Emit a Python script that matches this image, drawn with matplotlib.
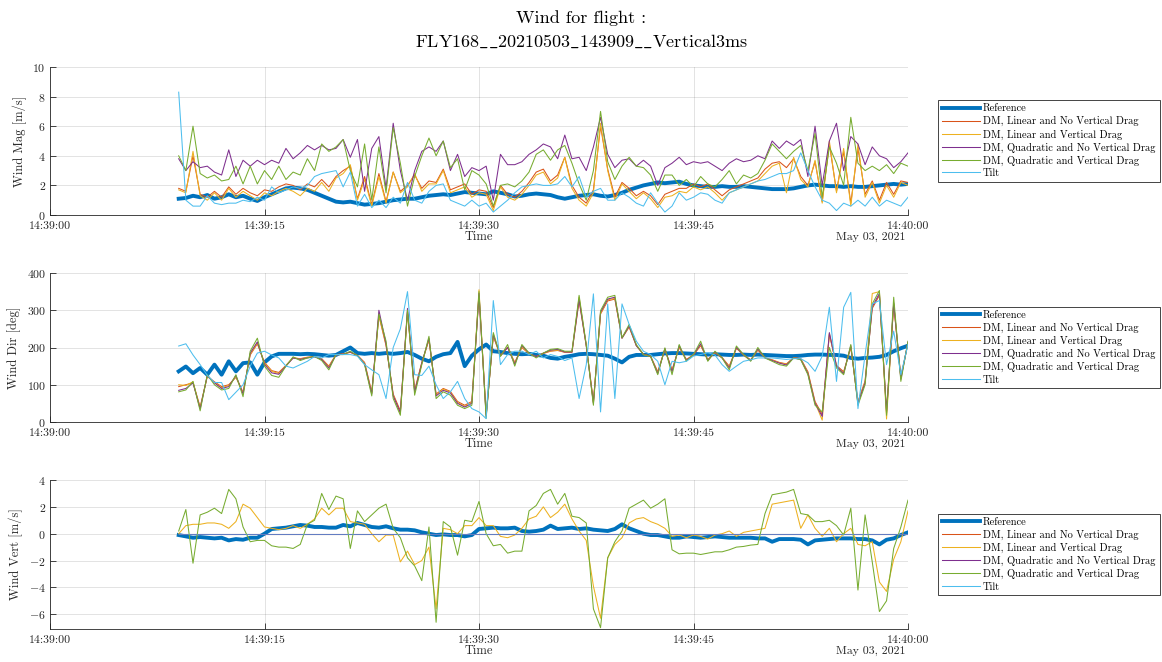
import numpy as np
import matplotlib
matplotlib.use('Agg')
import matplotlib.pyplot as plt
import matplotlib.dates as mdates
from matplotlib.lines import Line2D
from datetime import datetime, timedelta

plt.rcParams['font.family'] = ['cmr10', 'DejaVu Serif']
plt.rcParams['mathtext.fontset'] = 'cm'
plt.rcParams['axes.unicode_minus'] = False
plt.rcParams['axes.formatter.use_mathtext'] = True

# ---------------- data ----------------
t_start = 9.0   # seconds after 14:39:00
t_step = 0.5

labels = ['Reference', 'DM, Linear and No Vertical Drag', 'DM, Linear and Vertical Drag',
          'DM, Quadratic and No Vertical Drag', 'DM, Quadratic and Vertical Drag', 'Tilt']
colors = ['#0072BD', '#D95319', '#EDB120', '#7E2F8E', '#77AC30', '#4DBEEE']

mag_ref = [
    1.1, 1.15, 1.3, 1.2, 1.35, 1.1, 1.2, 1.4, 1.2, 1.3,
    1.1, 0.95, 1.2, 1.4, 1.6, 1.8, 1.85, 1.8, 1.7, 1.5,
    1.3, 1.1, 0.9, 0.85, 0.9, 0.8, 0.7, 0.75, 0.8, 0.9,
    1.0, 1.05, 1.1, 1.1, 1.2, 1.3, 1.35, 1.4, 1.35, 1.45,
    1.55, 1.5, 1.45, 1.4, 1.6, 1.5, 1.4, 1.25, 1.3, 1.4,
    1.45, 1.4, 1.35, 1.2, 1.1, 1.2, 1.3, 1.35, 1.4, 1.3,
    1.25, 1.35, 1.5, 1.7, 1.85, 2.0, 2.1, 2.2, 2.15, 2.2,
    2.25, 2.1, 2.0, 1.95, 1.9, 1.9, 1.95, 1.9, 1.9, 1.95,
    1.9, 1.85, 1.8, 1.75, 1.75, 1.75, 1.8, 1.9, 2.0, 2.05,
    2.0, 1.95, 1.95, 1.9, 1.95, 1.9, 1.9, 1.95, 2.0, 2.05,
    2.1, 2.05, 2.1]
mag_lin_nvd = [
    1.8, 1.6, 4.0, 1.4, 1.2, 1.6, 1.2, 1.9, 1.4, 1.8,
    1.5, 1.3, 1.7, 1.6, 1.9, 2.1, 2.0, 1.7, 2.1, 1.9,
    2.4, 1.9, 2.6, 3.0, 3.3, 1.1, 2.6, 0.7, 2.8, 0.9,
    2.9, 1.6, 2.0, 2.7, 1.8, 2.3, 2.2, 3.1, 1.7, 1.9,
    2.1, 1.4, 1.7, 1.6, 0.5, 2.0, 1.4, 1.2, 1.6, 2.2,
    2.9, 3.1, 2.3, 2.7, 3.9, 2.0, 1.2, 0.8, 1.7, 6.0,
    3.1, 1.2, 2.2, 1.8, 1.3, 1.6, 1.3, 0.7, 1.4, 1.6,
    1.8, 1.8, 2.1, 1.9, 2.1, 1.7, 1.3, 1.7, 1.9, 2.1,
    2.3, 2.5, 3.1, 3.5, 3.6, 3.2, 3.8, 2.6, 2.0, 3.6,
    0.9, 4.8, 1.6, 4.3, 0.8, 4.5, 1.4, 2.3, 1.0, 2.2,
    1.4, 2.3, 2.2]
mag_lin_vd = [
    1.7, 1.5, 4.3, 1.3, 1.0, 1.5, 1.0, 1.8, 1.2, 1.6,
    1.3, 1.0, 1.5, 1.3, 1.6, 1.8, 1.6, 1.3, 1.8, 1.6,
    2.2, 1.6, 2.5, 2.8, 3.4, 1.0, 2.4, 0.6, 2.6, 0.8,
    2.9, 1.5, 1.9, 2.8, 1.6, 2.1, 2.1, 3.0, 1.5, 1.7,
    1.9, 1.2, 1.5, 1.4, 0.3, 1.9, 1.2, 1.0, 1.4, 2.0,
    2.7, 2.9, 2.1, 2.5, 3.9, 1.8, 1.0, 0.6, 1.5, 6.2,
    3.0, 1.0, 2.1, 1.6, 1.1, 1.5, 1.1, 0.5, 1.2, 1.3,
    1.6, 1.5, 1.9, 1.7, 1.9, 1.5, 1.0, 1.5, 1.7, 1.9,
    2.1, 2.3, 2.8, 3.3, 3.5, 1.5, 3.9, 2.4, 1.9, 3.7,
    0.8, 5.0, 1.5, 4.5, 0.6, 4.8, 1.2, 2.2, 0.8, 2.0,
    1.2, 2.2, 2.0]
mag_quad_nvd = [
    3.8, 3.0, 3.6, 3.2, 3.3, 2.9, 2.7, 4.4, 2.6, 3.7,
    3.3, 3.7, 3.4, 3.7, 3.5, 4.5, 3.8, 4.2, 4.7, 4.4,
    4.7, 4.4, 4.5, 5.1, 3.9, 5.1, 1.6, 4.5, 5.3, 1.8,
    6.2, 3.0, 1.0, 3.0, 4.3, 4.6, 4.3, 5.0, 3.0, 4.1,
    2.6, 3.2, 3.0, 3.3, 1.0, 4.1, 3.4, 3.4, 3.6, 4.1,
    4.4, 4.8, 4.6, 3.8, 5.4, 3.8, 3.9, 3.0, 4.6, 6.6,
    4.1, 3.2, 3.7, 3.8, 3.3, 3.7, 3.3, 2.0, 3.2, 3.5,
    3.9, 3.4, 3.6, 3.5, 3.6, 3.3, 3.0, 3.5, 3.8, 3.6,
    3.7, 4.0, 3.8, 5.0, 4.5, 5.0, 4.7, 5.1, 2.6, 6.0,
    2.0, 5.0, 6.2, 3.0, 5.3, 4.8, 3.4, 4.6, 4.0, 3.8,
    3.2, 3.6, 4.2]
mag_quad_vd = [
    4.0, 3.0, 6.0, 2.8, 2.5, 2.7, 2.3, 2.4, 3.3, 2.1,
    3.3, 2.1, 3.0, 2.4, 3.3, 2.4, 2.9, 2.7, 3.8, 3.0,
    4.8, 4.3, 4.6, 5.1, 3.0, 1.9, 4.8, 1.0, 4.6, 1.5,
    5.9, 3.5, 0.6, 2.6, 4.0, 5.2, 4.0, 5.0, 3.2, 3.8,
    1.7, 3.0, 2.7, 2.1, 0.6, 2.0, 2.1, 1.9, 2.3, 2.9,
    4.1, 4.4, 3.7, 4.4, 4.7, 3.5, 2.1, 1.0, 3.0, 7.0,
    3.6, 2.4, 3.3, 3.9, 3.3, 3.2, 2.7, 1.6, 2.7, 2.7,
    2.0, 2.4, 1.9, 2.6, 2.1, 1.9, 2.4, 3.0, 2.1, 2.7,
    2.5, 2.8, 3.7, 4.8, 4.3, 3.8, 4.3, 4.7, 3.0, 5.5,
    1.2, 4.6, 3.5, 2.0, 6.6, 3.5, 3.0, 3.3, 3.0, 3.4,
    2.8, 3.5, 3.3]
mag_tilt = [
    8.3, 1.0, 0.6, 0.6, 1.3, 0.8, 0.7, 0.8, 0.8, 1.0,
    0.9, 1.2, 1.0, 1.9, 1.5, 1.7, 1.9, 1.8, 2.0, 2.6,
    2.8, 2.9, 3.0, 1.9, 2.9, 0.6, 1.4, 0.5, 1.0, 0.5,
    1.2, 0.8, 2.2, 1.0, 0.8, 1.6, 2.0, 2.1, 1.0, 0.8,
    0.6, 1.0, 0.6, 0.8, 0.2, 0.6, 1.0, 1.5, 1.9, 2.0,
    2.1, 2.0, 2.0, 2.1, 2.6, 1.9, 2.6, 1.2, 1.6, 1.8,
    1.0, 1.0, 1.5, 1.2, 0.8, 0.6, 1.5, 0.8, 0.2, 0.6,
    1.5, 1.0, 1.2, 1.5, 1.4, 1.0, 0.8, 1.5, 1.7, 1.9,
    2.1, 2.3, 2.4, 2.6, 2.8, 2.8, 3.0, 4.2, 3.0, 1.9,
    1.0, 0.8, 0.3, 0.8, 0.6, 1.0, 0.6, 1.2, 0.6, 1.0,
    0.8, 0.6, 1.2]

dir_ref = [
    136, 149, 131, 145, 127, 154, 127, 163, 136, 158,
    160, 127, 160, 176, 183, 183, 183, 182, 183, 182,
    180, 178, 180, 190, 200, 185, 183, 185, 183, 185,
    183, 185, 188, 180, 170, 163, 175, 182, 185, 215,
    150, 178, 195, 208, 190, 188, 185, 183, 182, 183,
    180, 178, 172, 170, 175, 178, 182, 183, 182, 180,
    178, 170, 160, 175, 180, 180, 180, 182, 184, 185,
    185, 184, 183, 182, 181, 182, 181, 180, 180, 181,
    180, 181, 180, 179, 178, 177, 177, 178, 180, 181,
    181, 180, 180, 178, 172, 170, 172, 173, 175, 180,
    190, 198, 205]
dir_lin_nvd = [
    95, 100, 105, 40, 122, 108, 95, 100, 120, 80,
    180, 210, 160, 138, 133, 152, 172, 170, 174, 176,
    170, 150, 181, 183, 187, 179, 160, 80, 285, 205,
    75, 30, 295, 85, 160, 220, 75, 90, 82, 55,
    45, 55, 340, 20, 230, 178, 200, 160, 200, 183,
    176, 184, 190, 192, 187, 187, 325, 205, 55, 290,
    325, 330, 225, 255, 205, 182, 177, 135, 195, 140,
    200, 168, 180, 205, 168, 186, 173, 150, 198, 180,
    167, 193, 173, 167, 160, 156, 173, 170, 135, 55,
    20, 235, 152, 135, 200, 55, 110, 305, 340, 30,
    315, 120, 212]
dir_lin_vd = [
    100, 98, 108, 38, 124, 106, 92, 98, 122, 78,
    182, 212, 158, 136, 130, 151, 173, 169, 173, 175,
    169, 148, 180, 182, 188, 178, 158, 78, 288, 208,
    72, 22, 298, 82, 157, 222, 72, 88, 80, 52,
    42, 52, 355, 18, 232, 177, 201, 158, 202, 184,
    175, 185, 191, 193, 188, 188, 335, 206, 52, 292,
    328, 332, 226, 256, 206, 181, 176, 132, 196, 138,
    202, 166, 181, 207, 166, 187, 172, 148, 199, 180,
    166, 194, 172, 166, 159, 155, 172, 169, 132, 52,
    5, 238, 150, 132, 202, 52, 108, 345, 350, 8,
    318, 118, 214]
dir_quad_nvd = [
    85, 90, 105, 35, 125, 105, 90, 95, 125, 75,
    185, 215, 155, 132, 128, 150, 172, 168, 172, 175,
    168, 145, 180, 182, 188, 178, 156, 75, 300, 210,
    70, 25, 305, 80, 158, 225, 70, 85, 78, 50,
    40, 50, 345, 15, 235, 178, 200, 155, 205, 185,
    175, 185, 193, 195, 188, 188, 330, 205, 50, 295,
    330, 335, 225, 258, 205, 182, 176, 130, 197, 135,
    205, 165, 180, 210, 165, 188, 172, 145, 200, 180,
    165, 196, 172, 165, 158, 153, 172, 168, 130, 50,
    15, 240, 150, 130, 205, 50, 105, 310, 345, 25,
    320, 115, 215]
dir_quad_vd = [
    81, 86, 109, 30, 127, 100, 86, 90, 127, 68,
    190, 225, 150, 125, 120, 150, 175, 165, 172, 176,
    165, 140, 181, 181, 190, 178, 154, 70, 290, 217,
    63, 18, 300, 72, 154, 230, 63, 81, 72, 45,
    36, 45, 350, 10, 240, 176, 208, 150, 208, 185,
    172, 185, 195, 197, 190, 190, 340, 208, 45, 299,
    335, 340, 226, 262, 208, 181, 176, 127, 199, 127,
    208, 163, 181, 217, 163, 190, 172, 140, 204, 181,
    163, 200, 172, 163, 154, 150, 172, 167, 127, 45,
    27, 200, 145, 127, 208, 45, 100, 317, 353, 18,
    335, 109, 217]
dir_tilt = [
    204, 210, 180, 154, 125, 106, 106, 60, 80, 100,
    150, 185, 190, 180, 172, 150, 145, 154, 163, 176,
    172, 181, 181, 181, 181, 177, 154, 140, 127, 63,
    200, 250, 350, 127, 125, 150, 100, 63, 81, 109,
    63, 36, 27, 9, 326, 154, 181, 190, 190, 181,
    190, 172, 181, 176, 165, 172, 63, 154, 344, 27,
    317, 63, 317, 262, 217, 190, 181, 163, 100, 163,
    159, 163, 177, 181, 186, 180, 154, 136, 150, 163,
    167, 172, 172, 172, 170, 168, 170, 170, 159, 136,
    177, 308, 109, 308, 348, 36, 181, 317, 326, 154,
    244, 127, 208]

vert_ref = [
    -0.1, -0.2, -0.3, -0.25, -0.3, -0.35, -0.3, -0.5, -0.4, -0.45,
    -0.3, -0.3, 0.0, 0.35, 0.4, 0.45, 0.55, 0.65, 0.6, 0.5,
    0.5, 0.45, 0.45, 0.65, 0.55, 0.8, 0.65, 0.5, 0.45, 0.55,
    0.4, 0.3, 0.3, 0.25, 0.1, 0.0, -0.1, -0.05, -0.1, -0.1,
    -0.2, -0.1, 0.35, 0.4, 0.45, 0.4, 0.4, 0.45, 0.2, 0.15,
    0.2, 0.3, 0.6, 0.35, 0.4, 0.45, 0.35, 0.4, 0.3, 0.25,
    0.2, 0.35, 0.7, 0.4, 0.2, 0.0, -0.1, -0.1, -0.2, -0.3,
    -0.3, -0.2, -0.25, -0.3, -0.25, -0.2, -0.25, -0.3, -0.3, -0.3,
    -0.3, -0.35, -0.35, -0.6, -0.4, -0.4, -0.4, -0.45, -0.8, -0.5,
    -0.45, -0.4, -0.35, -0.35, -0.35, -0.4, -0.4, -0.5, -0.8, -0.45,
    -0.35, -0.1, 0.1]
vert_lin_vd = [
    0.0, 0.6, 0.7, 0.7, 0.8, 0.8, 0.7, 0.4, 0.9, 2.2,
    1.9, 1.2, 0.5, 0.4, 0.3, 0.4, 0.6, 0.4, 0.7, 1.1,
    1.9, 1.4, 1.9, 1.9, 0.9, 0.8, 0.7, 0.0, -0.6, -0.1,
    -0.1, -2.1, -1.3, -2.3, -2.0, -1.0, -5.6, 0.4, 0.3, 0.0,
    0.6, 0.6, 1.2, 0.6, 0.6, -0.2, -0.3, -0.1, 0.4, 1.1,
    1.3, 2.0, 1.2, 1.6, 2.2, 1.1, 0.2, -0.5, -3.9, -6.3,
    -1.8, -0.8, -0.3, 0.8, 1.1, 1.2, 0.9, 0.7, 0.4, -0.2,
    -0.1, -0.3, -0.1, -0.2, -0.4, -0.1, 0.0, 0.2, -0.2, 0.1,
    0.2, 0.3, 0.4, 2.2, 2.3, 2.4, 2.5, 0.4, 1.4, 0.4,
    -0.2, 0.4, -0.6, 0.0, 0.4, -0.8, -0.9, -0.6, -3.6, -4.3,
    -1.9, -0.6, 1.7]
vert_quad_vd = [
    0.2, 1.8, -2.2, 1.4, 1.6, 1.9, 1.5, 3.3, 2.6, 0.5,
    -0.6, -0.5, -0.5, -0.9, -1.0, -1.0, -1.1, -0.8, 0.7, 1.0,
    3.0, 1.8, 2.8, 2.6, -1.1, 1.7, 0.9, 1.4, 1.9, 2.2,
    0.4, -0.3, -1.8, -2.4, -3.5, 0.5, -6.6, 0.9, 0.5, -1.6,
    1.0, 0.9, 2.4, 0.0, -0.9, -0.8, -1.45, -1.3, -1.3, 1.7,
    2.1, 3.0, 3.3, 2.2, 3.0, 1.3, 1.2, 0.8, -5.6, -7.0,
    -1.8, -0.6, 0.2, 1.9, 2.2, 2.5, 1.9, 2.2, 2.6, -1.2,
    -1.5, -1.45, -1.45, -1.55, -1.45, -1.35, -1.35, -1.2, -1.0, -0.95,
    -0.85, -0.8, 1.5, 2.9, 3.0, 3.1, 3.3, 1.5, 1.4, 0.9,
    0.9, 1.0, 0.6, -0.1, 1.9, -4.2, 1.4, -2.1, -5.8, -5.0,
    -1.1, 0.5, 2.5]
# models without vertical drag and the tilt estimate give zero vertical wind
vert_lin_nvd = [0.0] * len(vert_ref)
vert_quad_nvd = [0.0] * len(vert_ref)
vert_tilt = [0.0] * len(vert_ref)

panels = [
    ('Wind Mag [m/s]', (0, 10), [0, 2, 4, 6, 8, 10],
     [mag_ref, mag_lin_nvd, mag_lin_vd, mag_quad_nvd, mag_quad_vd, mag_tilt]),
    ('Wind Dir [deg]', (0, 400), [0, 100, 200, 300, 400],
     [dir_ref, dir_lin_nvd, dir_lin_vd, dir_quad_nvd, dir_quad_vd, dir_tilt]),
    ('Wind Vert [m/s]', (-7.1, 4), [-6, -4, -2, 0, 2, 4],
     [vert_ref, vert_lin_nvd, vert_lin_vd, vert_quad_nvd, vert_quad_vd, vert_tilt]),
]

# ---------------- figure ----------------
W, H = 1162, 662
fig = plt.figure(figsize=(W / 100, H / 100), dpi=100)
base = datetime(2021, 5, 3, 14, 39, 0)
axcol = '#262626'

ax_px = [(67, 215), (273, 422), (480, 629)]
left_px, right_px = 50, 908
leg_x0, leg_x1 = 938, 1160
lws = [2.8, 0.75, 0.75, 0.75, 0.75, 0.75]

proxies = [Line2D([], [], color=c, lw=lw) for c, lw in zip(colors, lws)]

for p, ((ylab, ylim, yticks, series), (top, bot)) in enumerate(zip(panels, ax_px)):
    ax = fig.add_axes([left_px / W, 1 - bot / H, (right_px - left_px) / W, (bot - top) / H])
    n = len(series[0])
    times = [base + timedelta(seconds=t_start + i * t_step) for i in range(n)]
    for k, (vals, c) in enumerate(zip(series, colors)):
        alpha = 0.55 if (p == 2 and k == 5) else 1.0
        ax.plot(times, vals, color=c, lw=lws[k], alpha=alpha, solid_joinstyle='round')
    ax.set_xlim(base, base + timedelta(seconds=60))
    ax.set_ylim(*ylim)
    ax.set_yticks(yticks)
    ax.xaxis.set_major_locator(mdates.SecondLocator(bysecond=[0, 15, 30, 45]))
    ax.xaxis.set_major_formatter(mdates.DateFormatter('%H:%M:%S'))
    ax.grid(True, color=axcol, alpha=0.15, lw=0.6)
    ax.set_axisbelow(True)
    for s in ['top', 'right']:
        ax.spines[s].set_visible(False)
    for s in ['left', 'bottom']:
        ax.spines[s].set_color(axcol)
        ax.spines[s].set_linewidth(0.6)
    ax.tick_params(direction='in', length=4, width=0.6, colors=axcol, labelsize=8.5)
    ax.tick_params(axis='x', pad=4.5)
    ax.tick_params(axis='y', pad=3)
    ax.set_ylabel(ylab, fontsize=9, color=axcol, labelpad=4)
    ax.set_xlabel('Time', fontsize=9, color=axcol, labelpad=0)
    ax.annotate('May 03, 2021', xy=(1, 0), xycoords='axes fraction', xytext=(-3, -17),
                textcoords='offset pixels', ha='right', va='top', fontsize=8.5, color=axcol)
    axw = right_px - left_px
    x0 = (leg_x0 - left_px) / axw
    wl = (leg_x1 - leg_x0) / axw
    leg = ax.legend(handles=proxies, labels=labels, loc='center left',
                    bbox_to_anchor=(x0, 0.0, wl, 1.0), mode='expand',
                    fontsize=7.5, frameon=True, fancybox=False, framealpha=1, edgecolor=axcol,
                    handlelength=3.7, handletextpad=0.25, labelspacing=0.28, borderpad=0.35,
                    borderaxespad=0)
    leg.get_frame().set_linewidth(0.6)

fig.suptitle('Wind for flight :\n' + r'$\mathrm{FLY168\_\_20210503\_143909\_\_Vertical3ms}$',
             y=1 - 10 / H, va='top', fontsize=13, color='black', linespacing=1.45)

fig.savefig('out.png', dpi=100)
